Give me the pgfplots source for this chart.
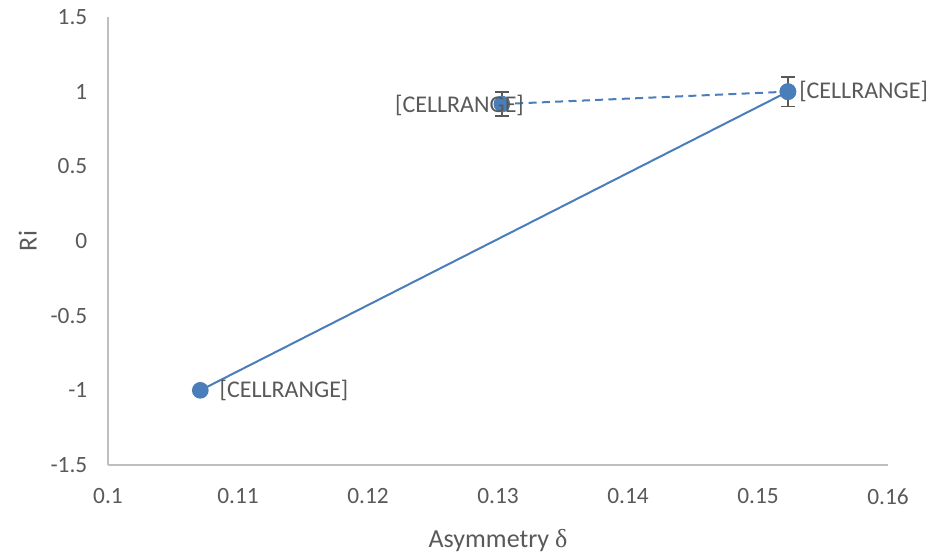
\documentclass[border=0pt]{standalone}
\usepackage{pgfplots}
\pgfplotsset{compat=1.18}
\usepackage{fontspec}
\setmainfont{Carlito}
\newfontfamily\greekfont{Liberation Serif}
\definecolor{ser}{HTML}{4A7EBB}
\definecolor{txt}{HTML}{595959}
\definecolor{axl}{HTML}{BFBFBF}
\begin{document}
\begin{tikzpicture}
\begin{axis}[
  scale only axis,
  width=585pt, height=336pt,
  xmin=0.1, xmax=0.16, ymin=-1.5, ymax=1.5,
  xtick={0.1,0.11,0.12,0.13,0.14,0.15,0.16},
  xticklabels={0.1,0.11,0.12,0.13,0.14,0.15,0.16},
  ytick={-1.5,-1,-0.5,0,0.5,1,1.5},
  yticklabels={-1.5,-1,-0.5,0,0.5,1,1.5},
  axis x line*=bottom, axis y line*=left,
  axis line style={axl, line width=1.2pt, -},
  major tick length=0pt,
  tick label style={font=\fontsize{17.5}{20}\selectfont, text=txt},
  xticklabel style={yshift=-14pt},
  yticklabel style={xshift=-12pt},
  xlabel={Asymmetry {\greekfont δ}},
  ylabel={Ri},
  label style={font=\fontsize{19.5}{22}\selectfont, text=txt},
  xlabel style={at={(0.5,0)}, anchor=north, yshift=-45pt},
  ylabel style={at={(0,0.5)}, anchor=south, xshift=0pt, yshift=50pt},
  clip=false,
]
\addplot[ser, line width=1.5pt, mark=*, mark size=5.5pt]
  coordinates {(0.1071,-1) (0.1523,1)};
\addplot[ser, line width=1.5pt, dashed, dash pattern=on 6pt off 4pt, mark=*, mark size=5.5pt, mark options={solid},
  error bars/.cd, y dir=both, y explicit,
  error bar style={txt, line width=1.2pt, solid},
  error mark options={txt, rotate=90, mark size=5pt, line width=1.2pt}]
  coordinates {(0.1303,0.917) +- (0,0.08) (0.1523,1) +- (0,0.1)};
\addplot[only marks, draw=none, mark=none,
  nodes near coords, point meta=explicit symbolic,
  every node near coord/.style={anchor=west, xshift=11pt, font=\fontsize{18}{21}\selectfont, text=txt}]
  coordinates {(0.1071,-1) [{[CELLRANGE]}]};
\addplot[only marks, draw=none, mark=none,
  nodes near coords, point meta=explicit symbolic,
  every node near coord/.style={anchor=west, xshift=5pt, font=\fontsize{18}{21}\selectfont, text=txt}]
  coordinates {(0.1523,1) [{[CELLRANGE]}]};
\addplot[only marks, draw=none, mark=none,
  nodes near coords, point meta=explicit symbolic,
  every node near coord/.style={anchor=east, xshift=20pt, yshift=-1pt, font=\fontsize{18}{21}\selectfont, text=txt}]
  coordinates {(0.1303,0.917) [{[CELLRANGE]}]};
\end{axis}
\path (current axis.south west) ++(-81pt,-68.25pt) rectangle ([xshift=34.5pt,yshift=12.75pt]current axis.north east);
\end{tikzpicture}
\end{document}
